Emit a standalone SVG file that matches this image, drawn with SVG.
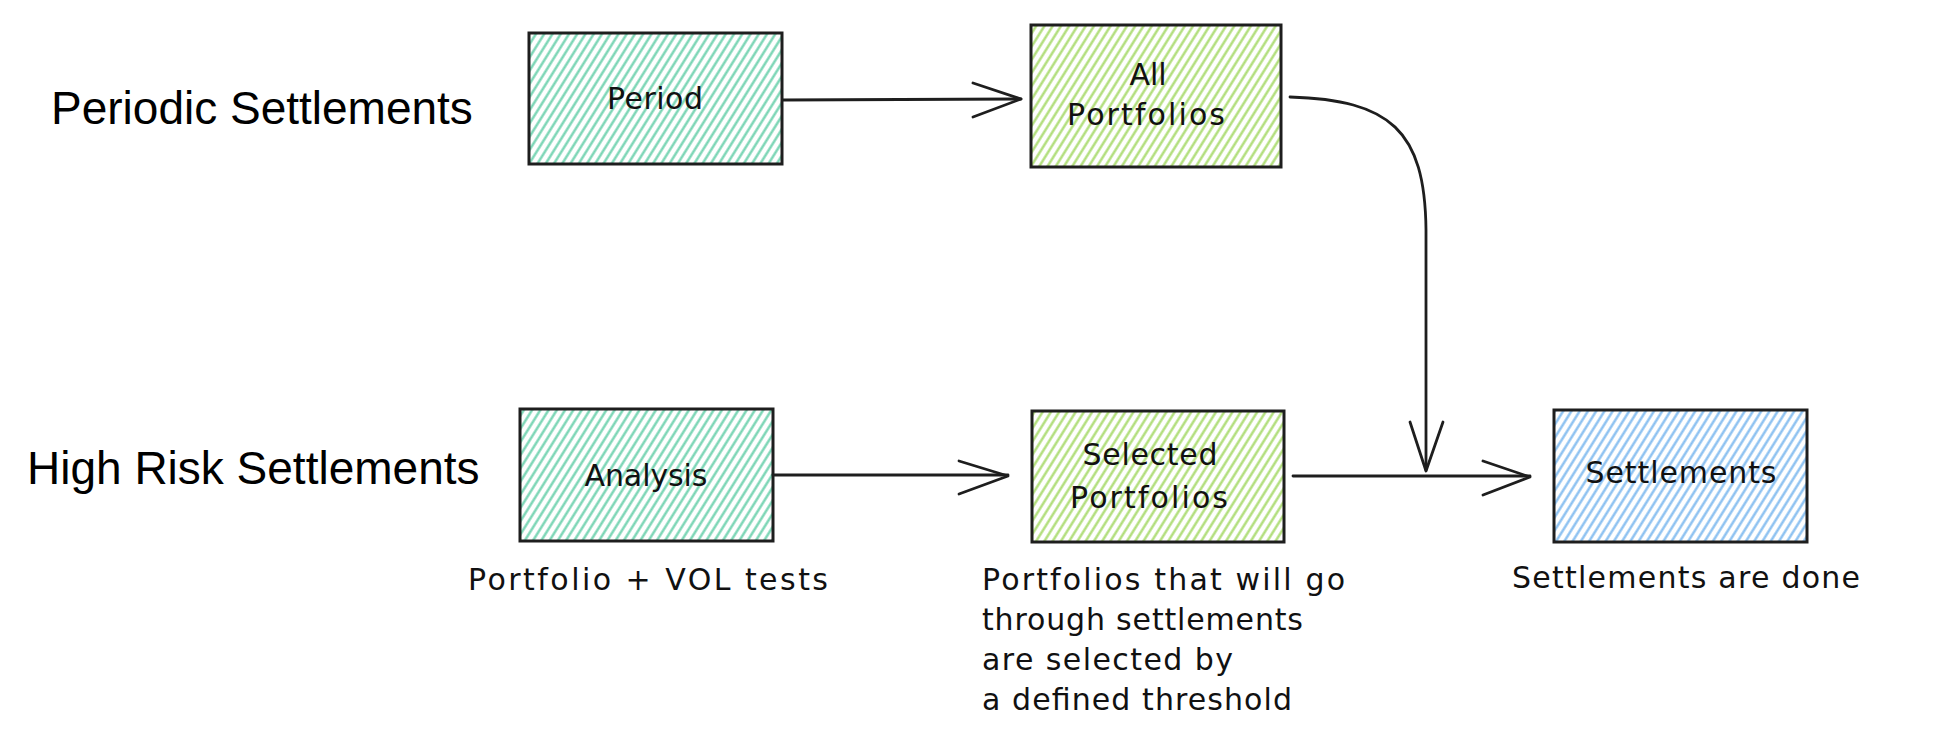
<svg xmlns="http://www.w3.org/2000/svg" width="1942" height="752" viewBox="0 0 1942 752">
  <defs>
    <pattern id="hTeal" patternUnits="userSpaceOnUse" width="7" height="10" patternTransform="rotate(32)">
      <line x1="3.5" y1="0" x2="3.5" y2="10" stroke="#72d3b0" stroke-width="2.3"/>
    </pattern>
    <pattern id="hGreen" patternUnits="userSpaceOnUse" width="7" height="10" patternTransform="rotate(32)">
      <line x1="3.5" y1="0" x2="3.5" y2="10" stroke="#acdc72" stroke-width="2.3"/>
    </pattern>
    <pattern id="hBlue" patternUnits="userSpaceOnUse" width="7" height="10" patternTransform="rotate(32)">
      <line x1="3.5" y1="0" x2="3.5" y2="10" stroke="#84bdf0" stroke-width="2.3"/>
    </pattern>
  </defs>
  <style>
    .box { stroke: #1e1e1e; stroke-width: 3; }
    .hand { font-family: "DejaVu Sans", sans-serif; font-size: 30px; fill: #111111; }
    .mid { text-anchor: middle; }
    .lane { font-family: "Liberation Sans", Arial, sans-serif; font-size: 46px; fill: #000; }
    .edge { fill: none; stroke: #1e1e1e; stroke-width: 2.8; stroke-linecap: round; stroke-linejoin: round; }
  </style>
  <rect width="1942" height="752" fill="#ffffff"/>

  <g id="lane-periodic">
    <text class="lane" x="51" y="124">Periodic Settlements</text>
  </g>
  <g id="lane-highrisk">
    <text class="lane" x="27" y="484">High Risk Settlements</text>
  </g>

  <g id="node-period">
    <rect class="box" x="529" y="33" width="253" height="131" fill="url(#hTeal)"/>
    <text class="hand mid" x="655" y="109" textLength="96">Period</text>
  </g>

  <g id="node-all-portfolios">
    <rect class="box" x="1031" y="25" width="250" height="142" fill="url(#hGreen)"/>
    <text class="hand mid" x="1148" y="85">All</text>
    <text class="hand mid" x="1146" y="125" textLength="158">Portfolios</text>
  </g>

  <g id="node-analysis">
    <rect class="box" x="520" y="409" width="253" height="132" fill="url(#hTeal)"/>
    <text class="hand mid" x="646" y="486" textLength="123">Analysis</text>
    <text class="hand mid" x="648" y="590" textLength="360">Portfolio + VOL tests</text>
  </g>

  <g id="node-selected-portfolios">
    <rect class="box" x="1032" y="411" width="252" height="131" fill="url(#hGreen)"/>
    <text class="hand mid" x="1150" y="465" textLength="135">Selected</text>
    <text class="hand mid" x="1149" y="508" textLength="158">Portfolios</text>
    <text class="hand" x="982" y="590" textLength="363">Portfolios that will go</text>
    <text class="hand" x="982" y="630" textLength="321">through settlements</text>
    <text class="hand" x="982" y="670" textLength="251">are selected by</text>
    <text class="hand" x="982" y="710" textLength="310">a defined threshold</text>
  </g>

  <g id="node-settlements">
    <rect class="box" x="1554" y="410" width="253" height="132" fill="url(#hBlue)"/>
    <text class="hand mid" x="1681" y="483" textLength="191">Settlements</text>
    <text class="hand mid" x="1686" y="588" textLength="348">Settlements are done</text>
  </g>

  <g id="connectors">
    <path class="edge" d="M783 100 L1021 99"/>
    <path class="edge" d="M973 83 L1021 99 L973 117"/>

    <path class="edge" d="M1290 97 C1390 100 1425 130 1426 230 L1426 470"/>
    <path class="edge" d="M1410 422 L1426 471 L1443 422"/>

    <path class="edge" d="M773 475 L1008 475"/>
    <path class="edge" d="M959 461 L1008 476 L959 494"/>

    <path class="edge" d="M1293 476 L1530 476"/>
    <path class="edge" d="M1483 461 L1530 477 L1483 495"/>
  </g>
</svg>
